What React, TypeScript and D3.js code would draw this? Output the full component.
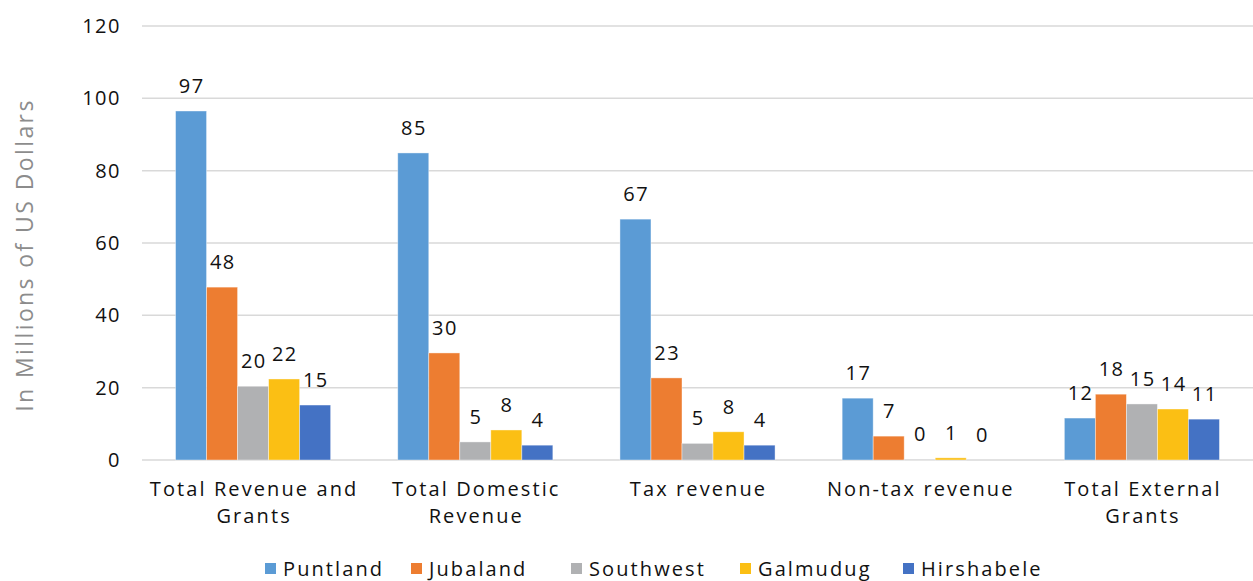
import React from 'react';
import * as d3 from 'd3';

const categories = ['Total Revenue and Grants', 'Total Domestic Revenue', 'Tax revenue', 'Non-tax revenue', 'Total External Grants'];
const categoryLines = [['Total Revenue and', 'Grants'], ['Total Domestic', 'Revenue'], ['Tax revenue'], ['Non-tax revenue'], ['Total External', 'Grants']];
const series = ['Puntland', 'Jubaland', 'Southwest', 'Galmudug', 'Hirshabele'];
const colors = ['#5B9BD5', '#ED7D31', '#B0B1B3', '#FBBF14', '#4472C4'];

// values per series, in category order
const puntland = [96.5, 84.9, 66.6, 17.1, 11.6];
const jubaland = [47.8, 29.6, 22.7, 6.6, 18.2];
const southwest = [20.4, 5.0, 4.6, 0.2, 15.5];
const galmudug = [22.4, 8.3, 7.8, 0.6, 14.1];
const hirshabele = [15.2, 4.1, 4.1, 0.0, 11.3];
const labels = [
  [97, 85, 67, 17, 12],
  [48, 30, 23, 7, 18],
  [20, 5, 5, 0, 15],
  [22, 8, 8, 1, 14],
  [15, 4, 4, 0, 11],
];
const yTicks = [0, 20, 40, 60, 80, 100, 120];

const W = 1253;
const H = 581;
const FONT = '"Open Sans", "Noto Sans", sans-serif';

export default function App() {
  const values = [puntland, jubaland, southwest, galmudug, hirshabele];
  const x = d3.scaleBand().domain(categories).range([142, 1253]);
  const bw = x.bandwidth();
  const xs = d3.scaleBand().domain(series).range([bw * 0.151, bw * 0.849]);
  const y = d3.scaleLinear().domain([0, 120]).range([460, 26]);

  return (
    <div style={{ position: 'absolute', left: 0, top: 0 }}>
      <svg width={W} height={H} style={{ display: 'block', fontFamily: FONT }}>
        <rect width={W} height={H} fill="#fff" />
        {yTicks.map(t => (
          <g key={t}>
            <line x1={142} x2={1253} y1={y(t)} y2={y(t)} stroke="#d9d9d9" strokeWidth={1.5} />
            <text x={121} y={y(t)} dy="0.35em" textAnchor="end" fontSize={20} letterSpacing={1.5} fill="#111">{t}</text>
          </g>
        ))}
        <text transform="translate(25,255) rotate(-90)" textAnchor="middle" dy="0.35em" fontSize={23} letterSpacing={2.4} fill="#8c8c8c">In Millions of US Dollars</text>
        {series.map((s, si) => (
          <g key={s}>
            {categories.map((c, ci) => {
              const v = values[si][ci];
              const bx = (x(c) as number) + (xs(s) as number);
              return (
                <g key={c}>
                  <rect x={bx} y={y(v)} width={xs.bandwidth()} height={y(0) - y(v)} fill={colors[si]} stroke="#ffffff" strokeOpacity={0.5} strokeWidth={0.8} />
                  <text x={bx + xs.bandwidth() / 2 + 0.75} y={y(v) - 18} textAnchor="middle" fontSize={20} letterSpacing={1.5} fill="#111">{labels[si][ci]}</text>
                </g>
              );
            })}
          </g>
        ))}
        {categories.map((c, ci) => (
          <text key={c} x={(x(c) as number) + bw / 2} y={496} textAnchor="middle" fontSize={20} letterSpacing={2.1} fill="#111">
            {categoryLines[ci].map((l, li) => (
              <tspan key={li} x={(x(c) as number) + bw / 2 + 1} dy={li === 0 ? 0 : 27}>{l}</tspan>
            ))}
          </text>
        ))}
        {series.map((s, si) => {
          const lx = [265, 411, 571, 740, 903][si];
          return (
            <g key={s}>
              <rect x={lx} y={563} width={11} height={11} fill={colors[si]} />
              <text x={lx + 18} y={569} dy="0.35em" fontSize={20} letterSpacing={2.1} fill="#111">{s}</text>
            </g>
          );
        })}
      </svg>
    </div>
  );
}
